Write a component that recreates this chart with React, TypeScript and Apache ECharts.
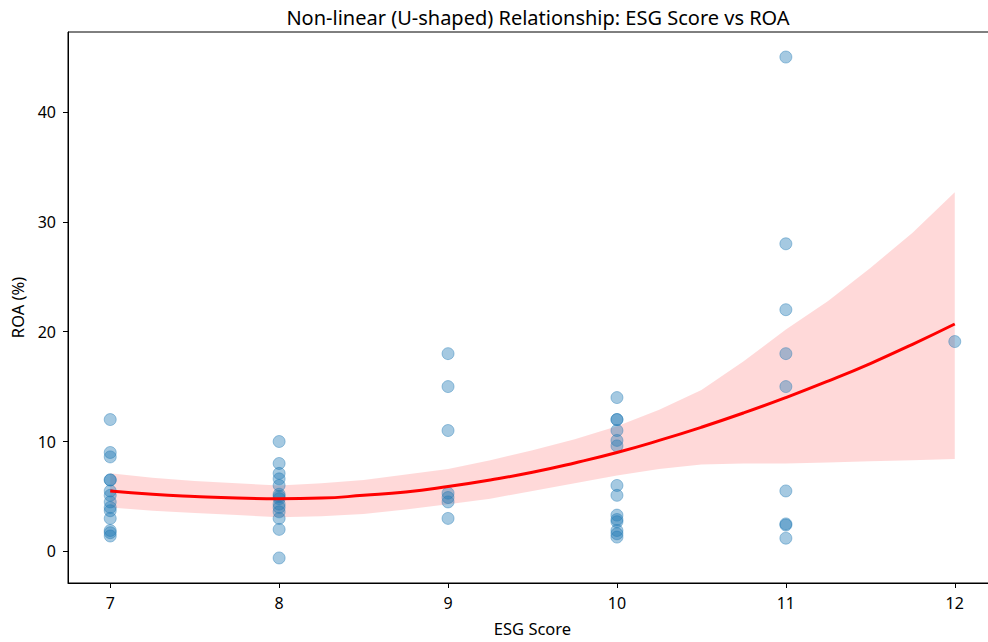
import React, { useEffect, useRef } from "react";
import * as echarts from "echarts";

// ESG score buckets and the ROA (%) observations in each bucket
const esgScores = [7, 8, 9, 10, 11, 12];
const roaAt7 = [12, 9, 8.6, 6.5, 6.5, 5.5, 5.1, 4.5, 4.0, 3.7, 3.0, 1.9, 1.7, 1.4];
const roaAt8 = [10, 8, 7.1, 6.6, 6, 5.2, 5, 4.8, 4.3, 4, 3.6, 3, 2, -0.6];
const roaAt9 = [18, 15, 11, 5.3, 4.9, 4.5, 3];
const roaAt10 = [14, 12, 12, 11, 10.1, 9.6, 6, 5.1, 3.3, 2.9, 2.7, 1.9, 1.6, 1.3];
const roaAt11 = [45, 28, 22, 18, 15, 5.5, 2.5, 2.4, 1.2];
const roaAt12 = [19.1];
const roaGroups = [roaAt7, roaAt8, roaAt9, roaAt10, roaAt11, roaAt12];

// Quadratic fit and its 95% confidence band, sampled along the ESG axis
const fitX = [7, 7.25, 7.5, 7.75, 8, 8.25, 8.5, 8.75, 9, 9.25, 9.5, 9.75, 10, 10.25, 10.5, 10.75, 11, 11.25, 11.5, 11.75, 12];
const fitY = [5.5, 5.2, 5.0, 4.85, 4.8, 4.85, 5.1, 5.4, 5.9, 6.5, 7.2, 8.05, 9.0, 10.1, 11.3, 12.6, 14.0, 15.5, 17.1, 18.85, 20.7];
const bandUpper = [7.1, 6.7, 6.4, 6.2, 6.0, 6.2, 6.5, 7.0, 7.5, 8.3, 9.2, 10.2, 11.4, 12.9, 14.7, 17.3, 20.2, 22.8, 25.8, 29.0, 32.7];
const bandLower = [4.0, 3.7, 3.5, 3.3, 3.1, 3.2, 3.4, 3.8, 4.3, 4.8, 5.5, 6.2, 6.9, 7.5, 7.9, 8.0, 8.0, 8.1, 8.2, 8.3, 8.4];

// Tick labels
const xTicks = [7, 8, 9, 10, 11, 12];
const yTicks = [0, 10, 20, 30, 40];

const FONT = "'Noto Sans', 'DejaVu Sans', sans-serif";

export default function App() {
  const ref = useRef<HTMLDivElement>(null);

  useEffect(() => {
    if (!ref.current) return;
    const chart = echarts.init(ref.current, undefined, { renderer: "svg" });

    const scatterData: number[][] = [];
    roaGroups.forEach((group, i) => {
      group.forEach((v) => scatterData.push([esgScores[i], v]));
    });

    const bandData = fitX.map((x, i) => [x, bandLower[i], bandUpper[i]]);
    const curveData = fitX.map((x, i) => [x, fitY[i]]);

    chart.setOption({
      animation: false,
      backgroundColor: "#ffffff",
      title: {
        text: "Non-linear (U-shaped) Relationship: ESG Score vs ROA",
        left: 533,
        textAlign: "center",
        top: 2,
        textStyle: { fontFamily: FONT, fontSize: 20, fontWeight: "normal", color: "#000" },
      },
      grid: {
        left: 68,
        top: 32,
        right: 3,
        bottom: 54,
        show: true,
        borderColor: "#000",
        borderWidth: 1,
        backgroundColor: "transparent",
      },
      xAxis: {
        type: "value",
        min: 6.75,
        max: 12.25,
        name: "ESG Score",
        nameLocation: "middle",
        nameGap: 37,
        nameTextStyle: { fontFamily: FONT, fontSize: 16.5, color: "#000" },
        axisLine: { show: true, onZero: false, lineStyle: { color: "#000", width: 1 } },
        axisTick: { show: true, length: 5, lineStyle: { color: "#000" }, customValues: xTicks },
        axisLabel: { fontFamily: FONT, fontSize: 16, color: "#000", margin: 12, customValues: xTicks },
        splitLine: { show: false },
      },
      yAxis: {
        type: "value",
        min: -2.88,
        max: 47.28,
        name: "ROA (%)",
        nameLocation: "middle",
        nameGap: 42,
        nameTextStyle: { fontFamily: FONT, fontSize: 16.5, color: "#000" },
        axisLine: { show: true, onZero: false, lineStyle: { color: "#000", width: 1 } },
        axisTick: { show: true, length: 5, lineStyle: { color: "#000" }, customValues: yTicks },
        axisLabel: { fontFamily: FONT, fontSize: 16, color: "#000", margin: 12, customValues: yTicks },
        splitLine: { show: false },
      },
      series: [
        {
          type: "scatter",
          data: scatterData,
          symbolSize: 12,
          itemStyle: {
            color: "rgba(31,119,180,0.5)",
            borderColor: "rgba(31,119,180,0.5)",
            borderWidth: 1,
          },
          silent: true,
        },
        {
          type: "custom",
          data: bandData,
          silent: true,
          clip: true,
          encode: { x: 0, y: [1, 2] },
          renderItem: (params: any, api: any) => {
            if (params.dataIndex !== 0) return null;
            const top = bandData.map((d) => api.coord([d[0], d[2]]));
            const bottom = bandData.map((d) => api.coord([d[0], d[1]])).reverse();
            return {
              type: "polygon",
              shape: { points: top.concat(bottom) },
              style: { fill: "rgba(255,0,0,0.15)" },
            };
          },
        },
        {
          type: "line",
          data: curveData,
          smooth: true,
          showSymbol: false,
          lineStyle: { color: "#ff0000", width: 3 },
          silent: true,
        },
      ],
    });

    return () => chart.dispose();
  }, []);

  return (
    <div
      ref={ref}
      style={{ position: "fixed", left: 0, top: 0, width: 1000, height: 642, background: "#fff" }}
    />
  );
}
